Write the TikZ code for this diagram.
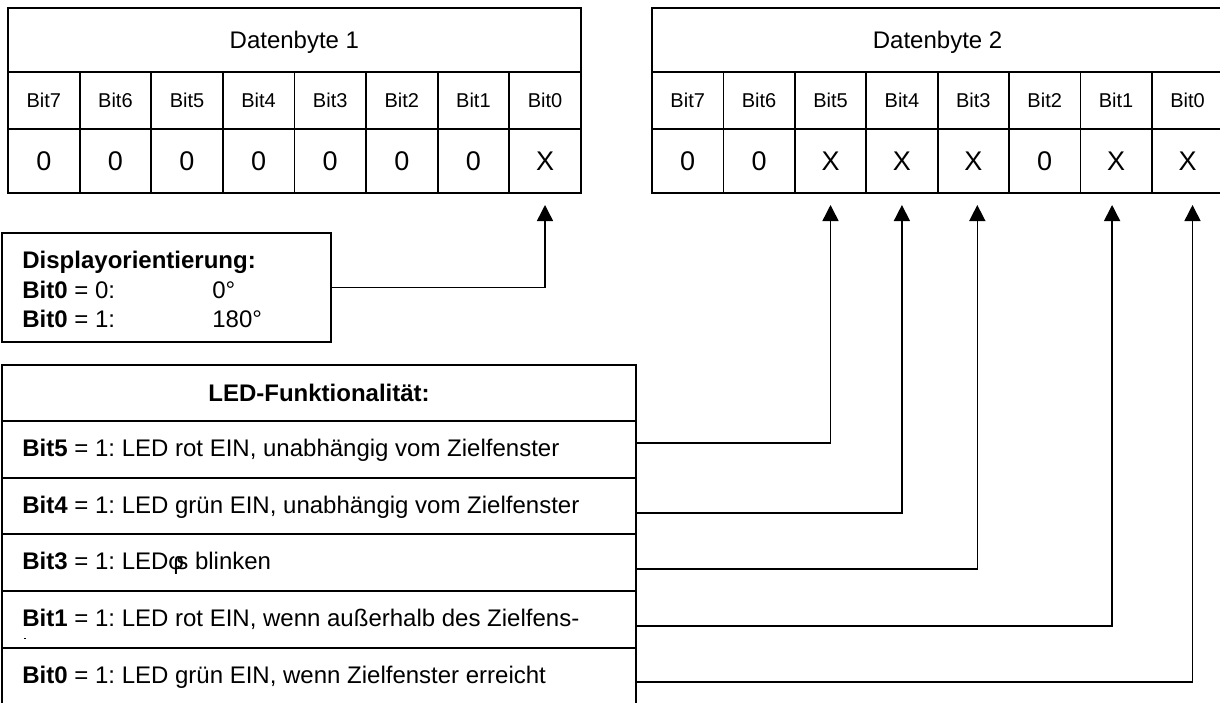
\documentclass[tikz,border=0pt]{standalone}
\usepackage{fontspec}
\setmainfont{Liberation Sans}
\usetikzlibrary{arrows.meta}
\frenchspacing
\begin{document}
\begin{tikzpicture}[x=0.5pt,y=-0.5pt,
  box/.style={draw=black, line width=0.9pt, inner sep=0pt, outer sep=0pt},
  bigcell/.style={box, font=\fontsize{12pt}{14pt}\selectfont, text height=8.6pt, text depth=0pt},
  valcell/.style={box, font=\fontsize{13.5pt}{16pt}\selectfont, text height=9.7pt, text depth=0pt},
  labcell/.style={box, font=\fontsize{10pt}{12pt}\selectfont, text height=7.2pt, text depth=0pt},
  txt/.style={anchor=base west, inner sep=0pt, font=\fontsize{12pt}{14pt}\selectfont},
  link/.style={line width=0.75pt, -{Triangle[length=8pt,width=8pt]}}]
\useasboundingbox (0,0) rectangle (1220,702);
\clip (0,0) rectangle (1220,702);

% ---- Datenbyte 1 ----
\node[bigcell, minimum width=286.4pt, minimum height=32pt] (b1title) at (294.4,40) {Datenbyte 1};
\foreach \v/\b [count=\i from 0] in {0/7,0/6,0/5,0/4,0/3,0/2,0/1,X/0} {
  \node[labcell, minimum width=35.8pt, minimum height=28.5pt] (b1n\b) at ({8+71.6*(\i+0.5)},100.5) {Bit\b};
  \node[valcell, minimum width=35.8pt, minimum height=32pt] (b1v\b) at ({8+71.6*(\i+0.5)},161) {\v};
}

% ---- Datenbyte 2 ----
\node[bigcell, minimum width=285.6pt, minimum height=32pt] (b2title) at (937.6,40) {Datenbyte 2};
\foreach \v/\b [count=\i from 0] in {0/7,0/6,X/5,X/4,X/3,0/2,X/1,X/0} {
  \node[labcell, minimum width=35.7pt, minimum height=28.5pt] (b2n\b) at ({652+71.4*(\i+0.5)},100.5) {Bit\b};
  \node[valcell, minimum width=35.7pt, minimum height=32pt] (b2v\b) at ({652+71.4*(\i+0.5)},161) {\v};
}

% ---- Displayorientierung ----
\node[box, minimum width=164.5pt, minimum height=54.5pt] (disp) at (166.5,287.5) {};
\node[txt] (dhead) at (22,268) {\textbf{Displayorientierung:}};
\node[txt] (dl0) at (22,298) {\textbf{Bit0} = 0:};
\node[txt] (dv0) at (212,298) {0°};
\node[txt] (dl1) at (22,327) {\textbf{Bit0} = 1:};
\node[txt] (dv1) at (212,327) {180°};

% ---- LED-Funktionalitaet ----
\node[box, minimum width=317pt, minimum height=28pt] (ledhead) at (319,393) {};
\node[anchor=base, inner sep=0pt, font=\fontsize{12pt}{14pt}\selectfont] (ledtitle) at (319,401) {\textbf{LED-Funktionalität:}};
\node[box, minimum width=317pt, minimum height=28.5pt] (r5) at (319,449.5) {};
\node[box, minimum width=317pt, minimum height=28pt]   (r4) at (319,506) {};
\node[box, minimum width=317pt, minimum height=28.5pt] (r3) at (319,562.5) {};
\node[box, minimum width=317pt, minimum height=28.5pt] (r1) at (319,619.5) {};
\node[box, minimum width=317pt, minimum height=28.5pt] (r0) at (319,676.5) {};
\node[txt] (t5) at (22,456.5) {\textbf{Bit5} = 1: LED rot EIN, unabhängig vom Zielfenster};
\node[txt] (t4) at (22,513.5) {\textbf{Bit4} = 1: LED grün EIN, unabhängig vom Zielfenster};
\node[txt] (t3) at (22,569.5) {\textbf{Bit3} = 1: LEDφ\kern-3.8pt s blinken};
\node[txt] (t1) at (22,626.5) {\textbf{Bit1} = 1: LED rot EIN, wenn außerhalb des Zielfens-};
\node[txt] (t0) at (22,683.5) {\textbf{Bit0} = 1: LED grün EIN, wenn Zielfenster erreicht};
% cut-off remainder of the wrapped line
\fill (24,637.5) rectangle (26,638.5);

% ---- connectors ----
\draw[link] (disp.east) -| ([yshift=-6pt]b1v0.south);
\draw[link] ([yshift=3.25pt]r5.east) -| ([yshift=-6pt]b2v5.south);
\draw[link] ([yshift=-3.5pt]r4.east) -| ([yshift=-6pt]b2v4.south);
\draw[link] ([yshift=-3.25pt]r3.east) -| ([xshift=2pt,yshift=-6pt]b2v3.south);
\draw[link] ([yshift=-3.25pt]r1.east) -| ([xshift=-2pt,yshift=-6pt]b2v1.south);
\draw[link] ([yshift=-2.75pt]r0.east) -| ([xshift=2.5pt,yshift=-6pt]b2v0.south);
\end{tikzpicture}
\end{document}
